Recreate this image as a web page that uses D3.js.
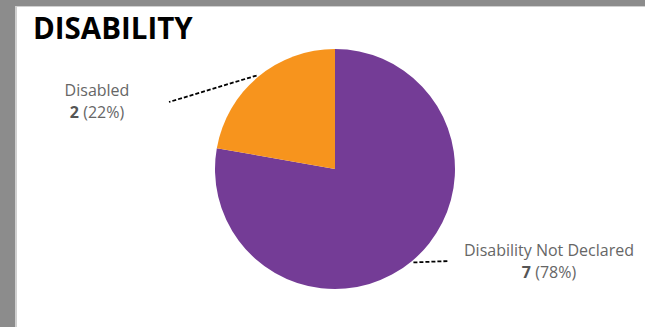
<!DOCTYPE html>
<html><head><meta charset="utf-8">
<script src="https://cdn.jsdelivr.net/npm/d3@7"></script>
<style>
html,body{margin:0;padding:0;background:#fff;}
svg{display:block;}
</style></head>
<body>
<svg id="c" width="645" height="327"></svg>
<script>
const title = "DISABILITY";
const categories = ["Disability Not Declared", "Disabled"];
const values = [7, 2];
const percents = ["78%", "22%"];
const colors = ["#743C96", "#F7941D"];

const svg = d3.select("#c");
const W = 645, H = 327;
// frame
svg.append("rect").attr("x",0).attr("y",0).attr("width",W).attr("height",H).attr("fill","#8c8c8c");
svg.append("rect").attr("x",15).attr("y",6).attr("width",W-15).attr("height",H-6).attr("fill","#d0d0d0");
svg.append("rect").attr("x",17).attr("y",7).attr("width",W-17).attr("height",H-7).attr("fill","#ffffff");

svg.append("text").attr("x",33).attr("y",39)
  .attr("font-family","'Open Sans', sans-serif").attr("font-weight","bold")
  .attr("font-size",29.5).attr("fill","#000").text(title);

const cx = 335, cy = 169, r = 120;
const g = svg.append("g").attr("transform",`translate(${cx},${cy})`);
const pie = d3.pie().sort(null).value(d=>d)(values);
const arc = d3.arc().innerRadius(0).outerRadius(r);
g.selectAll("path.s").data(pie).join("path").attr("class","s")
  .attr("d",arc).attr("fill",(d,i)=>colors[i]);

const edge = d3.arc().innerRadius(r+2).outerRadius(r+2);
// label layout: [line end offset relative to center, label anchor]
const layout = [
  {end:[114, 92], lx:549, ly:256},
  {end:[-166, -67], lx:97, ly:96}
];
pie.forEach((d,i)=>{
  const [sx,sy] = edge.centroid(d);
  const L = layout[i];
  g.append("line").attr("x1",sx).attr("y1",sy).attr("x2",L.end[0]).attr("y2",L.end[1])
    .attr("stroke","#000").attr("stroke-width",1.8).attr("stroke-dasharray","4,2");
  const t = svg.append("text").attr("x",L.lx).attr("y",L.ly).attr("text-anchor","middle")
    .attr("font-family","'Open Sans', sans-serif").attr("font-size",16).attr("fill","#666");
  t.append("tspan").attr("x",L.lx).text(categories[i]);
  const t2 = t.append("tspan").attr("x",L.lx).attr("dy",22);
  t2.append("tspan").attr("font-weight","bold").attr("fill","#555").text(values[i]);
  t2.append("tspan").text(" (" + percents[i] + ")");
});
</script>
</body></html>
